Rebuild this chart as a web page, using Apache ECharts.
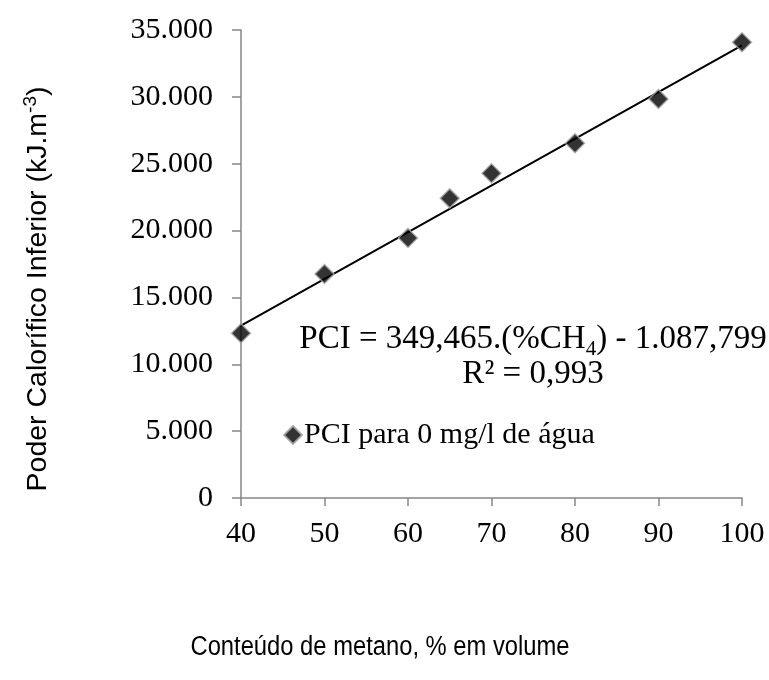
<!DOCTYPE html>
<html>
<head>
<meta charset="utf-8">
<script src="https://cdn.jsdelivr.net/npm/echarts@6/dist/echarts.min.js"></script>
<style>
  html, body { margin: 0; padding: 0; background: #fff; }
  #chart { width: 769px; height: 680px; }
</style>
</head>
<body>
<div id="chart"></div>
<script>
// Methane content (% by volume) and lower heating value (kJ/m3)
const methanePct = [40, 50, 60, 65, 70, 80, 90, 100];
const pciValues = [12320, 16750, 19450, 22410, 24280, 26530, 29840, 34080];

// Linear fit endpoints (PCI = 349,465.(%CH4) - 1.087,799)
const trendX = [40, 100];
const trendY = [12891, 33859];

const xTicks = { min: 40, max: 100, step: 10 };
const yTicks = { min: 0, max: 35000, step: 5000 };

const serif = '"Liberation Serif", "Times New Roman", serif';
const sans = '"Liberation Sans", Arial, sans-serif';
const axisGray = '#868686';

function thousands(v) {
  return String(v).replace(/\B(?=(\d{3})+(?!\d))/g, '.');
}

const chart = echarts.init(document.getElementById('chart'), null, { renderer: 'canvas' });

chart.setOption({
  backgroundColor: '#ffffff',
  animation: false,
  grid: { left: 241, right: 27, top: 30, bottom: 182, containLabel: false },
  xAxis: {
    type: 'value',
    min: xTicks.min,
    max: xTicks.max,
    interval: xTicks.step,
    axisLine: { show: true, onZero: false, lineStyle: { color: axisGray, width: 1.5 } },
    axisTick: { show: true, inside: false, length: 8, lineStyle: { color: axisGray, width: 1.5 } },
    axisLabel: { color: '#000', fontFamily: serif, fontSize: 30, margin: 21 },
    splitLine: { show: false }
  },
  yAxis: {
    type: 'value',
    min: yTicks.min,
    max: yTicks.max,
    interval: yTicks.step,
    axisLine: { show: true, lineStyle: { color: axisGray, width: 1.5 } },
    axisTick: { show: true, inside: false, length: 9, lineStyle: { color: axisGray, width: 1.5 } },
    axisLabel: { color: '#000', fontFamily: serif, fontSize: 30, margin: 28, formatter: thousands },
    splitLine: { show: false }
  },
  legend: {
    left: 278,
    top: 415,
    icon: 'diamond',
    itemWidth: 18,
    itemHeight: 18,
    itemGap: 4,
    data: ['PCI para 0 mg/l de água'],
    textStyle: { color: '#000', fontFamily: serif, fontSize: 30, padding: [0, 0, 0, -3] }
  },
  series: [
    {
      name: 'Tendência',
      type: 'line',
      data: trendX.map((x, i) => [x, trendY[i]]),
      showSymbol: false,
      symbol: 'none',
      lineStyle: { color: '#000', width: 2 },
      silent: true,
      z: 2
    },
    {
      name: 'PCI para 0 mg/l de água',
      type: 'scatter',
      data: methanePct.map((x, i) => [x, pciValues[i]]),
      symbol: 'diamond',
      symbolSize: 19,
      itemStyle: { color: '#000', borderColor: '#a6a6a6', borderWidth: 1.5 },
      z: 3
    }
  ],
  graphic: [
    {
      type: 'text',
      x: 533,
      y: 340,
      style: {
        text: '{m|PCI = 349,465.(%CH}{s|4}{m|) - 1.087,799}',
        align: 'center',
        verticalAlign: 'middle',
        rich: {
          m: { fontFamily: serif, fontSize: 33, color: '#000', lineHeight: 34, verticalAlign: 'top' },
          s: { fontFamily: serif, fontSize: 21, color: '#000', lineHeight: 21, verticalAlign: 'top', padding: [16, 0, 0, 0] }
        }
      }
    },
    {
      type: 'text',
      x: 533,
      y: 374,
      style: {
        text: 'R² = 0,993',
        align: 'center',
        verticalAlign: 'middle',
        fontFamily: serif,
        fontSize: 33,
        fill: '#000'
      }
    },
    {
      type: 'text',
      x: 380,
      y: 648,
      scaleX: 0.88,
      style: {
        text: 'Conteúdo de metano, % em volume',
        align: 'center',
        verticalAlign: 'middle',
        fontFamily: sans,
        fontSize: 27,
        fill: '#000'
      }
    },
    {
      type: 'text',
      x: 38,
      y: 289,
      rotation: Math.PI / 2,
      style: {
        text: '{m|Poder Calorífico Inferior (kJ.m}{p|-3}{m|)}',
        align: 'center',
        verticalAlign: 'middle',
        rich: {
          m: { fontFamily: sans, fontSize: 28.5, color: '#000', lineHeight: 34 },
          p: { fontFamily: sans, fontSize: 19, color: '#000', lineHeight: 34, verticalAlign: 'top' }
        }
      }
    }
  ]
});
</script>
</body>
</html>
